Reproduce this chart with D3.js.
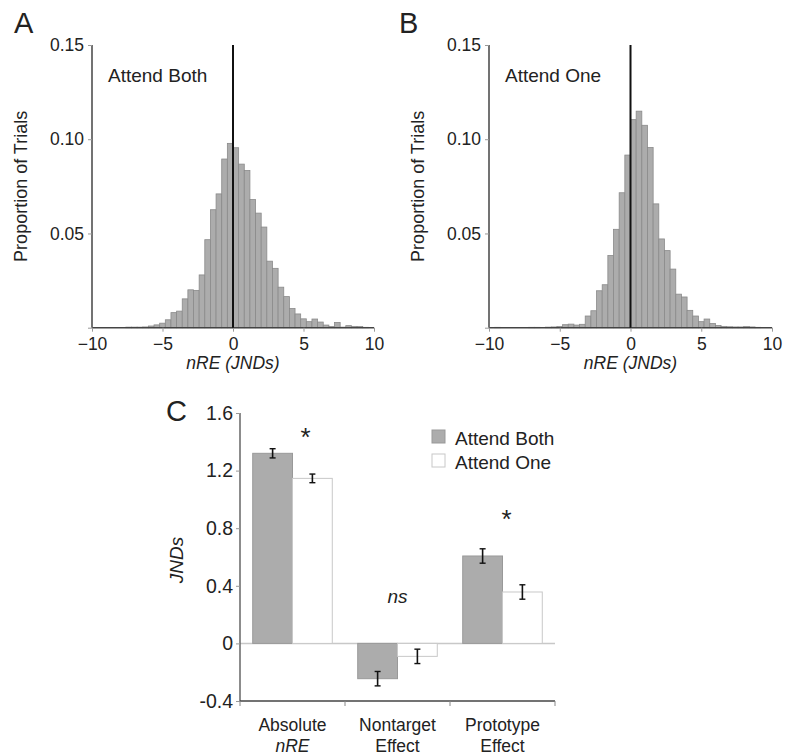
<!DOCTYPE html>
<html><head><meta charset="utf-8">
<script src="https://cdn.jsdelivr.net/npm/d3@7"></script>
<style>
body{margin:0;background:#fff;}
text{font-family:"Liberation Sans",Arial,Helvetica,sans-serif;fill:#222;}
</style></head>
<body>
<svg id="c" width="791" height="755"></svg>
<script>
// ---------- DATA ----------
const binStart = -10, binWidth = 0.4; // 50 bins from -10 to 10
const attendBothHist = [0,0,0,0,0,0,0.0003,0.0003,0.0003,0.0004,
  0.0009,0.0015,0.0024,0.0042,0.008,0.0088,0.0153,0.0201,0.0198,0.028,
  0.0467,0.0626,0.071,0.0895,0.0978,0.0955,0.0868,0.0834,0.068,0.0608,
  0.0534,0.0353,0.0315,0.0215,0.0165,0.0102,0.0073,0.0047,0.0032,0.0046,
  0.003,0.0014,0.0006,0.0028,0.0003,0.0011,0.0007,0.0006,0.0002,0];
const attendOneHist = [0,0.0002,0,0,0,0,0,0.0002,0.0002,0,
  0.0003,0.0004,0.0006,0.0016,0.0019,0.0014,0.0018,0.0062,0.009,0.0196,
  0.0228,0.0383,0.0522,0.0716,0.0916,0.1104,0.1149,0.1074,0.0956,0.0657,
  0.0471,0.0409,0.0311,0.0178,0.0163,0.0092,0.0062,0.0032,0.0046,0.0022,
  0.0012,0.0007,0.0005,0.0004,0.0004,0.0006,0.0004,0.0002,0,0];
const histXTicks = [-10,-5,0,5,10];
const histYTicks = [0,0.05,0.10,0.15];

const categories = [["Absolute","nRE"],["Nontarget","Effect"],["Prototype","Effect"]];
const seriesNames = ["Attend Both","Attend One"];
const attendBothMeans = [1.32,-0.245,0.607];
const attendOneMeans  = [1.146,-0.09,0.357];
const attendBothErr   = [0.032,0.05,0.05];
const attendOneErr    = [0.03,0.05,0.05];
const barYTicks = [-0.4,0,0.4,0.8,1.2,1.6];
const sigLabels = ["*","ns","*"];

// ---------- DRAW ----------
const svg = d3.select("#c");
const axisCol = "#444", tickCol = "#999";

function histPanel(cfg){
  const g = svg.append("g");
  const x = d3.scaleLinear().domain([-10,10]).range([cfg.x0, cfg.x1]);
  const y = d3.scaleLinear().domain([0,0.15]).range([327.7,45]);
  const bins = cfg.data.map((v,i)=>({x0:binStart+i*binWidth, x1:binStart+(i+1)*binWidth, v}));
  g.selectAll("rect.bar").data(bins.filter(b=>b.v>0)).join("rect")
    .attr("x",d=>x(d.x0)).attr("width",d=>x(d.x1)-x(d.x0))
    .attr("y",d=>y(d.v)).attr("height",d=>y(0)-y(d.v))
    .attr("fill","#acacac").attr("stroke","#8a8a8a").attr("stroke-width",0.8);
  const ya = g.append("g").attr("transform",`translate(${cfg.x0},0)`)
    .call(d3.axisLeft(y).tickValues(histYTicks).tickSize(4).tickPadding(4)
      .tickFormat(d=>d===0?"":d3.format(".2f")(d)));
  const xa = g.append("g").attr("transform",`translate(0,${y(0)})`)
    .call(d3.axisBottom(x).tickValues(histXTicks).tickSize(4).tickPadding(6).tickFormat(d3.format("d")));
  [ya,xa].forEach(a=>{
    a.select(".domain").attr("stroke",axisCol).attr("stroke-width",1.5);
    a.selectAll(".tick line").attr("stroke",tickCol);
    a.selectAll(".tick text").style("font-size","17.5px").attr("fill","#222")
      .style("font-family",'"Liberation Sans",Arial,sans-serif');
  });
  ya.select(".domain").attr("d",`M-0,${y(0)}V${y(0.15)}`);
  xa.select(".domain").attr("d",`M${cfg.x0},0H${cfg.x1}`);
  g.append("line").attr("x1",x(0)).attr("x2",x(0)).attr("y1",y(0)).attr("y2",y(0.15))
    .attr("stroke","#111").attr("stroke-width",2);
  g.append("text").attr("x",cfg.x0+16).attr("y",82).style("font-size","19px").text(cfg.label);
  g.append("text").attr("x",x(0)).attr("y",369).attr("text-anchor","middle")
    .style("font-size","17.5px").style("font-style","italic").text("nRE (JNDs)");
  g.append("text").attr("transform",`translate(${cfg.x0-65},${(y(0)+y(0.15))/2}) rotate(-90)`)
    .attr("text-anchor","middle").style("font-size","18px").text("Proportion of Trials");
  g.append("text").attr("x",cfg.letterX).attr("y",33).style("font-size","29px").text(cfg.letter);
}
histPanel({x0:92,x1:374,data:attendBothHist,label:"Attend Both",letter:"A",letterX:14});
histPanel({x0:489,x1:772,data:attendOneHist,label:"Attend One",letter:"B",letterX:399});

// ---------- Panel C ----------
const gc = svg.append("g");
const yb = d3.scaleLinear().domain([-0.4,1.6]).range([701,413]);
const xb = d3.scaleBand().domain(categories.map(c=>c[0])).range([240,555]).paddingInner(0).paddingOuter(0);
const xs = d3.scaleBand().domain(seriesNames).range([0,xb.bandwidth()]).paddingInner(0).paddingOuter(0.32);
const fills = {"Attend Both":"#acacac","Attend One":"#ffffff"};
const strokes = {"Attend Both":"#999","Attend One":"#c8c8c8"};
const barData = [];
categories.forEach((c,i)=>{
  barData.push({cat:c[0],s:"Attend Both",v:attendBothMeans[i],e:attendBothErr[i]});
  barData.push({cat:c[0],s:"Attend One",v:attendOneMeans[i],e:attendOneErr[i]});
});
gc.append("line").attr("x1",240).attr("x2",555).attr("y1",yb(0)).attr("y2",yb(0))
  .attr("stroke","#c8c8c8").attr("stroke-width",1.5);
gc.selectAll("rect.b").data(barData).join("rect")
  .attr("x",d=>xb(d.cat)+xs(d.s)).attr("width",xs.bandwidth())
  .attr("y",d=>yb(Math.max(0,d.v))).attr("height",d=>Math.abs(yb(d.v)-yb(0)))
  .attr("fill",d=>fills[d.s]).attr("stroke",d=>strokes[d.s]).attr("stroke-width",1);
const eb = gc.selectAll("g.eb").data(barData).join("g")
  .attr("transform",d=>`translate(${xb(d.cat)+xs(d.s)+xs.bandwidth()/2},0)`);
eb.append("line").attr("y1",d=>yb(d.v-d.e)).attr("y2",d=>yb(d.v+d.e)).attr("stroke","#111").attr("stroke-width",1.6);
eb.append("line").attr("x1",-3).attr("x2",3).attr("y1",d=>yb(d.v+d.e)).attr("y2",d=>yb(d.v+d.e)).attr("stroke","#111").attr("stroke-width",1.4);
eb.append("line").attr("x1",-3).attr("x2",3).attr("y1",d=>yb(d.v-d.e)).attr("y2",d=>yb(d.v-d.e)).attr("stroke","#111").attr("stroke-width",1.4);
const yaC = gc.append("g").attr("transform","translate(240,0)")
  .call(d3.axisLeft(yb).tickValues(barYTicks).tickSize(4).tickPadding(3)
    .tickFormat(d=>d===0?"0":d.toFixed(1)));
yaC.select(".domain").attr("stroke","#666").attr("stroke-width",1.5).attr("d",`M0,${yb(-0.4)}V${yb(1.6)}`);
yaC.selectAll(".tick line").attr("stroke",tickCol);
yaC.selectAll(".tick text").style("font-size","19.5px").attr("fill","#222")
  .style("font-family",'"Liberation Sans",Arial,sans-serif');
gc.append("line").attr("x1",240).attr("x2",555).attr("y1",yb(-0.4)).attr("y2",yb(-0.4))
  .attr("stroke",axisCol).attr("stroke-width",1.5);
const seps = categories.map(c=>xb(c[0])).concat([xb(categories[2][0])+xb.bandwidth()]);
gc.selectAll("line.sep").data(seps).join("line")
  .attr("x1",d=>d).attr("x2",d=>d).attr("y1",yb(-0.4)).attr("y2",yb(-0.4)+5).attr("stroke","#888");
categories.forEach((c,i)=>{
  const cx = xb(c[0])+xb.bandwidth()/2;
  gc.append("text").attr("x",cx).attr("y",731).attr("text-anchor","middle").style("font-size","17.5px").text(c[0]);
  gc.append("text").attr("x",cx).attr("y",752).attr("text-anchor","middle").style("font-size","17.5px")
    .style("font-style",i===0?"italic":"normal").text(c[1]);
});
gc.append("text").attr("x",xb(categories[0][0])+xb.bandwidth()/2+13).attr("y",446).attr("text-anchor","middle").style("font-size","26px").text(sigLabels[0]);
gc.append("text").attr("x",xb(categories[1][0])+xb.bandwidth()/2).attr("y",603).attr("text-anchor","middle").style("font-size","19px").style("font-style","italic").text(sigLabels[1]);
gc.append("text").attr("x",xb(categories[2][0])+xb.bandwidth()/2+4).attr("y",528).attr("text-anchor","middle").style("font-size","26px").text(sigLabels[2]);
gc.append("text").attr("transform",`translate(183,560) rotate(-90)`).attr("text-anchor","middle")
  .style("font-size","19px").style("font-style","italic").text("JNDs");
gc.append("text").attr("x",166).attr("y",421).style("font-size","29px").text("C");
const lg = gc.selectAll("g.lg").data(seriesNames).join("g").attr("transform",(d,i)=>`translate(432,${430+i*24})`);
lg.append("rect").attr("width",13).attr("height",13).attr("fill",d=>fills[d]).attr("stroke",d=>strokes[d]);
lg.append("text").attr("x",23).attr("y",15).style("font-size","19px").text(d=>d);
</script>
</body></html>
